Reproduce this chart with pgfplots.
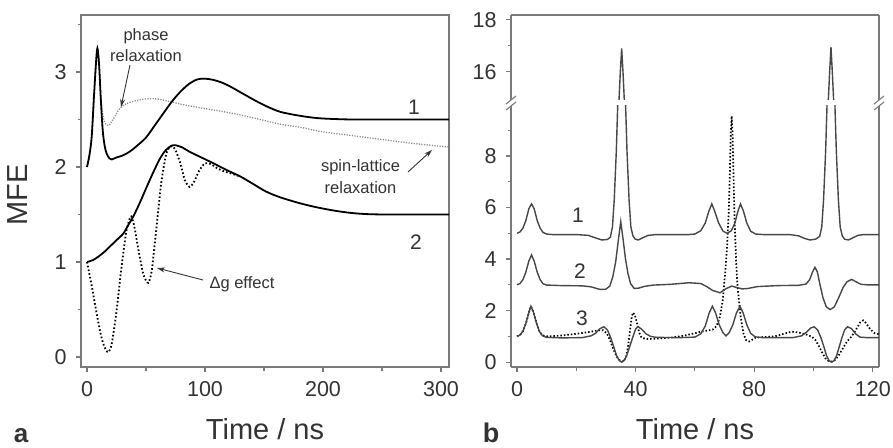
\documentclass[border=0pt]{standalone}
\usepackage{fontspec}
\setmainfont{Liberation Sans}
\usepackage{pgfplots}
\pgfplotsset{compat=1.18}
\usepackage{pgfplotstable}
\usetikzlibrary{arrows.meta}
\definecolor{framegray}{HTML}{7A7A7A}
\definecolor{txtgray}{HTML}{333333}
\definecolor{curvegray}{HTML}{474747}
\definecolor{dotgray}{HTML}{8A8A8A}

\pgfplotstableread{
x y
0 2.0
2 2.12
4 2.32
5.9 2.74
7.6 3.09
8.8 3.25
10.2 3.09
11.6 2.74
13.3 2.39
15 2.22
16.7 2.14
19 2.09
21 2.08
25 2.10
30 2.12
36 2.16
43 2.23
50 2.31
57 2.43
65 2.57
72 2.69
79 2.79
86 2.87
93 2.92
99 2.93
106 2.92
114 2.89
121 2.85
131 2.78
141 2.71
152 2.64
164 2.58
180 2.54
195 2.515
210 2.505
230 2.5
307 2.5
}\aone

\pgfplotstableread{
x y
0 2.0
2 2.12
4 2.32
5.9 2.74
7.6 3.09
8.8 3.25
10.2 3.09
11.6 2.76
13.3 2.56
15 2.47
17 2.44
19 2.44
22 2.50
28 2.62
34 2.67
39 2.69
46 2.71
53 2.72
60 2.715
70 2.69
80 2.66
93 2.63
107 2.60
121 2.57
140 2.52
164 2.45
180 2.42
200 2.37
225 2.33
250 2.29
275 2.25
307 2.21
}\aonedot

\pgfplotstableread{
x y
0 1.0
5 1.02
10 1.06
15 1.11
20 1.17
25 1.23
30.8 1.30
35 1.39
39.3 1.48
45 1.63
50.6 1.79
56 1.94
61.9 2.09
67 2.18
73 2.23
80 2.21
87 2.16
97 2.10
107 2.04
118 1.97
130 1.90
141 1.82
152 1.74
164 1.68
180 1.62
195 1.575
210 1.54
225 1.515
240 1.503
260 1.5
307 1.5
}\atwo

\pgfplotstableread{
x y
0 1.0
4 0.75
8 0.47
12 0.22
15 0.10
18 0.05
21 0.14
25 0.48
29 0.92
33 1.30
36 1.45
37.5 1.48
40 1.38
44 1.10
48 0.86
52 0.78
55 0.92
59 1.38
63 1.84
67 2.13
70 2.21
72 2.22
75 2.18
79 2.04
83 1.86
87 1.79
91 1.85
95 1.96
100 2.04
105 2.03
110 1.99
115 1.96
120 1.94
125 1.92
130 1.90
}\atwodot

\pgfplotstableread{
x y
0 5.0
1 5.05
2 5.2
3 5.5
4 5.95
4.9 6.14
5.8 5.95
6.8 5.5
7.8 5.2
8.8 5.03
10 4.97
12 4.95
20 4.95
24 4.92
26 4.84
28.6 4.74
30.5 4.76
31.5 4.85
32.2 5.25
32.8 6.3
33.5 8.2
33.95 9.9
34.2 12.5
34.4 14.9
34.85 16.0
35.3 16.9
35.75 16.0
36.2 14.9
36.4 12.5
36.65 9.9
37.1 8.2
37.8 6.3
38.4 5.25
39.1 4.9
39.9 4.77
40.9 4.74
42.3 4.82
44.3 4.92
47 4.95
58 4.95
60 4.97
62 5.1
63.5 5.4
64.7 5.85
65.7 6.14
66.7 5.85
68 5.4
69.5 5.08
70.9 5.0
72.3 5.1
73.5 5.4
74.5 5.85
75.4 6.14
76.4 5.85
77.5 5.4
78.8 5.08
80.5 4.97
83 4.95
92 4.95
95 4.9
97 4.8
98.8 4.74
100.7 4.77
102.1 4.88
102.8 5.25
103.4 6.3
104.1 8.2
104.55 9.9
104.8 12.5
105.0 14.9
105.45 16.0
105.9 16.95
106.35 16.0
106.8 14.9
107.0 12.5
107.25 9.9
107.7 8.2
108.4 6.3
109.0 5.25
109.7 4.9
110.5 4.77
111.8 4.74
113.2 4.82
115 4.92
117 4.95
122.1 4.95
}\bone

\pgfplotstableread{
x y
0 3.0
1 3.05
2 3.2
3 3.5
4 3.92
4.9 4.16
5.8 3.92
6.8 3.5
7.8 3.2
8.8 3.04
10 2.99
15 2.97
22 2.96
25 2.92
28 2.82
30 2.83
31.3 2.95
32.3 3.3
33.3 3.9
34.2 4.75
35.0 5.45
35.8 4.75
36.6 4.0
37.4 3.45
38.3 3.05
39.5 2.86
41 2.87
43 2.94
46 2.99
52 3.02
58 3.08
62 3.05
64 2.93
66 2.78
68.5 2.69
70.5 2.85
72.4 2.95
74 2.9
76 2.84
78 2.86
81 2.93
88 2.97
95 2.98
97.5 3.03
98.7 3.2
99.7 3.5
100.5 3.68
101.3 3.5
102.2 3.0
103.2 2.5
104.3 2.15
105.6 2.04
107 2.14
108.5 2.5
110 2.9
111.3 3.12
112.9 3.21
114.3 3.12
116 3.02
118 3.0
122.1 3.0
}\btwo

\pgfplotstableread{
x y
0 1.0
1 1.05
2 1.2
3 1.5
4 1.92
4.7 2.17
5.6 1.92
6.6 1.5
7.6 1.18
8.6 1.02
10 0.96
15 0.94
22 0.95
25 1.02
26.5 1.12
28 1.3
29.3 1.37
30.5 1.25
31.6 0.95
32.6 0.6
33.6 0.25
34.5 0.06
35.3 0.0
36.1 0.06
37 0.25
38 0.6
39 0.95
40 1.28
40.8 1.38
42 1.28
43.5 1.1
45 1.0
47 0.96
55 0.95
60 0.97
62 1.1
63.5 1.4
64.8 1.9
65.9 2.17
67 1.9
68.2 1.45
69.4 1.15
70.5 1.02
71.6 1.15
72.8 1.45
74 1.9
75.2 2.17
76.3 1.9
77.5 1.45
78.8 1.12
80.3 0.98
83 0.95
93 0.95
96 1.02
97.5 1.15
99 1.32
100.2 1.37
101.4 1.25
102.5 0.95
103.5 0.6
104.4 0.25
105.3 0.05
106.1 0.0
106.9 0.05
107.8 0.25
108.7 0.6
109.6 0.95
110.5 1.25
111.5 1.37
112.8 1.3
114.2 1.1
115.7 0.97
118 0.95
122.1 0.95
}\bthree

\pgfplotstableread{
x y
0 1.0
1 1.05
2 1.2
3 1.5
4 1.92
4.7 2.17
5.6 1.92
6.6 1.5
7.6 1.18
8.6 1.04
10 1.0
14 1.02
18 1.07
22 1.13
25 1.18
27.5 1.24
29 1.24
30.3 1.12
31.4 0.85
32.5 0.5
33.6 0.22
34.8 0.05
35.9 0.02
36.8 0.2
37.5 0.65
38.2 1.3
38.7 1.75
39.1 1.92
39.7 1.85
40.4 1.55
41.2 1.15
42 0.95
43.5 0.9
45 0.9
48 0.92
52 0.95
56 1.02
60 1.12
62 1.18
64 1.22
66 1.26
67.3 1.4
68.4 1.74
69.4 2.4
70.4 3.7
70.9 4.6
71.4 5.8
71.8 7.35
72.1 8.9
72.4 9.55
72.7 8.9
73.0 7.35
73.4 5.5
73.9 3.9
74.4 2.9
75.4 1.8
76.4 1.1
77.3 0.85
78.3 0.8
79.5 0.88
80.5 0.95
84 0.98
87 1.0
90 1.1
92.6 1.18
95 1.15
97.6 1.07
99.5 0.98
100.7 0.85
101.7 0.65
102.8 0.4
104 0.15
105 0.05
106.3 0.02
107.5 0.1
108.7 0.3
110 0.55
111.3 0.8
112.5 0.95
113.6 1.12
114.8 1.35
115.8 1.55
116.8 1.62
117.8 1.5
119 1.3
120.5 1.13
122.1 1.08
}\bthreedot

\pgfplotsset{
  mystyle/.style={
    scale only axis, anchor=south west,
    axis line style={framegray, line width=1.1pt},
    tick style={framegray, line width=1.1pt},
    major tick length=5pt, minor tick length=3.5pt,
    tick align=outside,
    tick label style={font=\fontsize{21.5}{21.5}\selectfont, text=txtgray},
    xticklabel style={yshift=-6pt},
    yticklabel style={xshift=-6pt},
    /pgf/number format/assume math mode=true,
    label style={font=\fontsize{29}{29}\selectfont, text=txtgray},
  }
}

\begin{document}
\begin{tikzpicture}[x=1pt,y=1pt]
\useasboundingbox (0,0) rectangle (893,447);

% ---------- panel a ----------
\begin{axis}[mystyle, at={(81pt,80pt)}, width=368pt, height=352pt,
  xmin=-5.08, xmax=306.8, ymin=-0.105, ymax=3.6,
  xtick={0,100,200,300}, minor xtick={50,150,250},
  ytick={0,1,2,3}, minor ytick={0.5,1.5,2.5,3.5},
  tick pos=left,
  xlabel={Time / ns}, ylabel={MFE},
  xlabel style={at={(axis description cs:0.5,-0.207)}, anchor=base, inner sep=0pt},
  ylabel style={at={(axis description cs:-0.172,0.489)}, anchor=center},
]
\addplot[dotgray, line width=1.3pt, dash pattern=on 1.2pt off 1.4pt, smooth, tension=0.5] table {\aonedot};
\addplot[black, line width=1.8pt, smooth, tension=0.5] table {\aone};
\addplot[black, line width=1.8pt, dash pattern=on 1.6pt off 2.2pt, smooth, tension=0.4] table {\atwodot};
\addplot[black, line width=1.8pt, smooth, tension=0.5] table {\atwo};
\end{axis}

% ---------- panel b, lower ----------
\begin{axis}[mystyle, at={(511pt,80pt)}, width=368pt, height=261pt,
  axis x line*=bottom, axis y line*=box,
  xmin=-2.02, xmax=122.1, ymin=-0.19, ymax=9.94,
  xtick={0,40,80,120}, minor xtick={20,60,100},
  ytick={0,2,4,6,8}, minor ytick={1,3,5,7,9},
  xtick pos=bottom, ytick pos=left,
  xlabel={Time / ns},
  xlabel style={at={(axis description cs:0.5,-0.279)}, anchor=base, inner sep=0pt},
]
\addplot[black, line width=1.7pt, dash pattern=on 1.5pt off 2pt] table {\bthreedot};
\addplot[curvegray, line width=1.4pt] table {\bthree};
\addplot[curvegray, line width=1.4pt] table {\btwo};
\addplot[curvegray, line width=1.4pt] table {\bone};
\end{axis}

% ---------- panel b, upper ----------
\begin{axis}[mystyle, at={(511pt,347pt)}, width=368pt, height=85pt,
  axis x line*=top, axis y line*=box,
  xmin=-2.02, xmax=122.1, ymin=14.92, ymax=18.19,
  xtick=\empty,
  ytick={16,18}, minor ytick={17},
  ytick pos=left,
]
\addplot[curvegray, line width=1.4pt] table {\bone};
\end{axis}

% break marks
\foreach \xx in {511,879} {
  \draw[framegray, line width=1.1pt] (\xx-5,343) -- (\xx+5,351);
  \draw[framegray, line width=1.1pt] (\xx-5,337) -- (\xx+5,345);
}

% annotations panel a
\node[font=\fontsize{16.5}{21}\selectfont, text=txtgray, align=center] at (146,401.5) {phase\\relaxation};
\draw[-{Stealth[length=8pt,width=5pt]}, line width=0.9pt, txtgray] (130,382) -- (121,340);
\node[font=\fontsize{16.5}{22}\selectfont, text=txtgray, align=center] at (360.5,270) {spin-lattice\\relaxation};
\draw[-{Stealth[length=8pt,width=5pt]}, line width=0.9pt, txtgray] (408,275) -- (432,297);
\node[font=\fontsize{16.5}{20}\selectfont, text=txtgray, anchor=west] at (206,163) {Δg effect};
\draw[-{Stealth[length=8pt,width=5pt]}, line width=0.9pt, txtgray] (203,167) -- (157,179);

% curve labels
\node[font=\fontsize{21}{21}\selectfont, text=txtgray] at (414,340) {1};
\node[font=\fontsize{21}{21}\selectfont, text=txtgray] at (416,205) {2};
\node[font=\fontsize{21}{21}\selectfont, text=txtgray] at (578,232) {1};
\node[font=\fontsize{21}{21}\selectfont, text=txtgray] at (580,176) {2};
\node[font=\fontsize{21}{21}\selectfont, text=txtgray] at (582,129) {3};

% panel letters
\node[font=\bfseries\fontsize{26}{26}\selectfont, text=txtgray, anchor=base] at (21,5) {a};
\node[font=\bfseries\fontsize{27}{27}\selectfont, text=txtgray, anchor=base] at (491,5) {b};
\end{tikzpicture}
\end{document}
